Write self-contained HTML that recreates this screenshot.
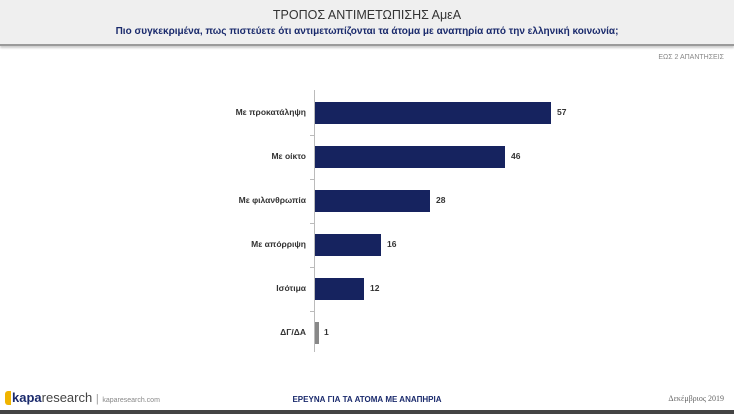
<!DOCTYPE html>
<html><head><meta charset="utf-8"><style>
body{margin:0;width:734px;height:414px;background:#fff;position:relative;overflow:hidden;font-family:"Liberation Sans","DejaVu Sans",sans-serif}
.hdr{position:absolute;left:0;top:0;width:734px;height:44px;background:#efefef;border-bottom:2px solid #9a9a9a;box-shadow:0 2px 2px #ccc}
.t1{position:absolute;top:8px;width:734px;text-align:center;font-size:12.5px;color:#333}
.t2{position:absolute;top:26px;width:734px;text-align:center;font-size:10px;font-weight:bold;color:#1a2a6c}
.note{position:absolute;right:10px;top:54px;font-size:7px;color:#888}
.bar{position:absolute;left:315px;height:22px;background:#16235f}
.lab{position:absolute;right:428px;font-size:8.5px;font-weight:bold;color:#333;text-align:right;white-space:nowrap}
.val{position:absolute;font-size:8.5px;font-weight:bold;color:#333}
.axis{position:absolute;left:314px;top:90px;width:1px;height:262px;background:#bbb}
.tick{position:absolute;left:310px;width:4px;height:1px;background:#bbb}
.foot{position:absolute;bottom:0;left:0;width:734px;height:4px;background:#444}
</style></head><body>
<div class="hdr"><div class="t1">ΤΡΟΠΟΣ ΑΝΤΙΜΕΤΩΠΙΣΗΣ ΑμεΑ</div><div class="t2">Πιο συγκεκριμένα, πως πιστεύετε ότι αντιμετωπίζονται τα άτομα με αναπηρία από την ελληνική κοινωνία;</div></div>
<div class="note">ΕΩΣ 2 ΑΠΑΝΤΗΣΕΙΣ</div>
<div class="axis"></div>
<div class="tick" style="top:135px"></div><div class="tick" style="top:179px"></div><div class="tick" style="top:223px"></div><div class="tick" style="top:267px"></div><div class="tick" style="top:311px"></div>
<div class="bar" style="top:102px;width:236px"></div><div class="lab" style="top:107px">Με προκατάληψη</div><div class="val" style="left:557px;top:107px">57</div>
<div class="bar" style="top:146px;width:190px"></div><div class="lab" style="top:151px">Με οίκτο</div><div class="val" style="left:511px;top:151px">46</div>
<div class="bar" style="top:190px;width:115px"></div><div class="lab" style="top:195px">Με φιλανθρωπία</div><div class="val" style="left:436px;top:195px">28</div>
<div class="bar" style="top:234px;width:66px"></div><div class="lab" style="top:239px">Με απόρριψη</div><div class="val" style="left:387px;top:239px">16</div>
<div class="bar" style="top:278px;width:49px"></div><div class="lab" style="top:283px">Ισότιμα</div><div class="val" style="left:370px;top:283px">12</div>
<div class="bar" style="top:322px;width:4px;background:#888"></div><div class="lab" style="top:327px">ΔΓ/ΔΑ</div><div class="val" style="left:324px;top:327px">1</div>
<div style="position:absolute;left:5px;top:391px;width:6px;height:14px;background:#f0b400;border-radius:3px 0 0 3px"></div>
<div style="position:absolute;left:12px;top:390px;font-size:13px;color:#1a2a6c"><b>kapa</b><span style="color:#444">research</span> <span style="color:#999;font-size:11px">|</span> <span style="font-size:7px;color:#888">kaparesearch.com</span></div>
<div style="position:absolute;left:0;width:734px;top:395px;text-align:center;font-size:8px;font-weight:bold;color:#1a2a6c">ΕΡΕΥΝΑ ΓΙΑ ΤΑ ΑΤΟΜΑ ΜΕ ΑΝΑΠΗΡΙΑ</div>
<div style="position:absolute;right:10px;top:394px;font-size:8px;color:#666;font-family:'Liberation Serif',serif">Δεκέμβριος 2019</div>
<div class="foot"></div>
</body></html>
